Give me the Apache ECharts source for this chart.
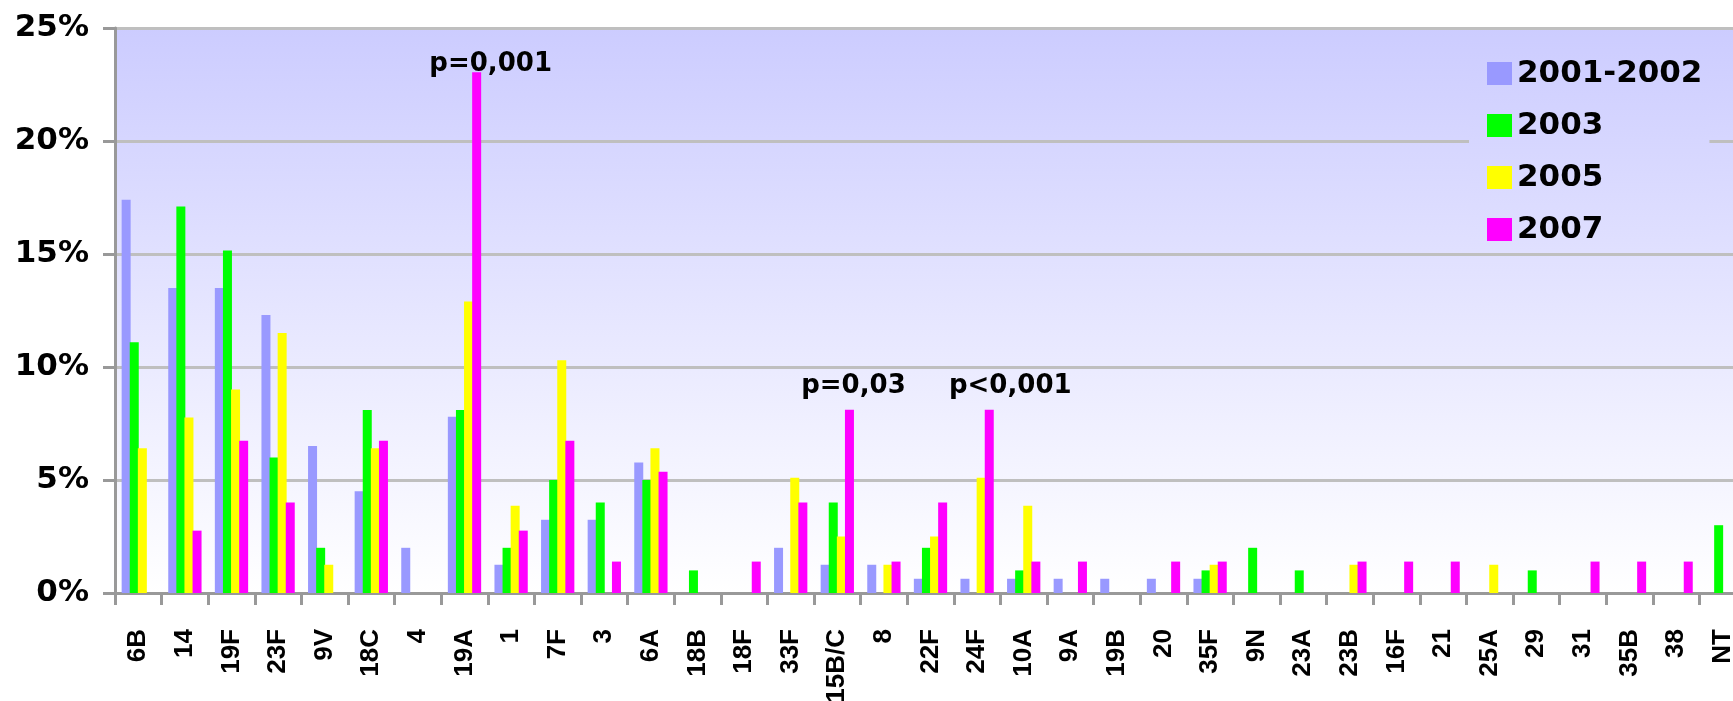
<!DOCTYPE html>
<html>
<head>
<meta charset="utf-8">
<title>Serotypes</title>
<script src="https://cdn.jsdelivr.net/npm/echarts@6.0.0/dist/echarts.min.js"></script>
<style>
  html, body { margin: 0; padding: 0; background: #fff; }
  #chart { width: 1733px; height: 701px; }
</style>
</head>
<body>
<div id="chart"></div>
<script>
// categories (serotypes)
const categories = ['6B', '14', '19F', '23F', '9V', '18C', '4', '19A', '1', '7F', '3', '6A', '18B', '18F', '33F',
  '15B/C', '8', '22F', '24F', '10A', '9A', '19B', '20', '35F', '9N', '23A', '23B', '16F', '21', '25A', '29',
  '31', '35B', '38', 'NT']

// values in %
const values2001 = [17.4, 13.5, 13.5, 12.3, 6.5, 4.5, 2.0, 7.8, 1.25, 3.24, 3.24, 5.77, 0, 0, 2.0,
  1.25, 1.25, 0.63, 0.63, 0.63, 0.63, 0.63, 0.63, 0.63, 0, 0, 0, 0, 0, 0, 0,
  0, 0, 0, 0]
const values2003 = [11.1, 17.1, 15.15, 6.0, 2.0, 8.1, 0, 8.1, 2.0, 5.0, 4.0, 5.0, 1.0, 0, 0,
  4.0, 0, 2.0, 0, 1.0, 0, 0, 0, 1.0, 2.0, 1.0, 0, 0, 0, 0, 1.0,
  0, 0, 0, 3.0]
const values2005 = [6.4, 7.76, 9.0, 11.5, 1.25, 6.4, 0, 12.9, 3.86, 10.3, 0, 6.4, 0, 0, 5.1,
  2.5, 1.25, 2.5, 5.1, 3.86, 0, 0, 0, 1.25, 0, 0, 1.25, 0, 0, 1.25, 0,
  0, 0, 0, 0]
const values2007 = [0, 2.76, 6.74, 4.0, 0, 6.74, 0, 23.04, 2.76, 6.74, 1.39, 5.37, 0, 1.39, 4.0,
  8.11, 1.39, 4.0, 8.11, 1.39, 1.39, 0, 1.39, 1.39, 0, 0, 1.39, 1.39, 1.39, 0, 0,
  1.39, 1.39, 1.39, 0]

const seriesNames = ['2001-2002', '2003', '2005', '2007']

// p-value notes above the 2007 bars
const pCategories = ['19A', '15B/C', '24F']
const pTexts = ['p=0,001', 'p=0,03', 'p<0,001']

// styling
const seriesColors = ['#9999ff', '#00ff00', '#ffff00', '#ff00ff']
const pOffsets = { '19A': [14, 5], '15B/C': [4, -10], '24F': [21, -10] }
const wideFont = '"DejaVu Sans", sans-serif'
const labelFont = '"Liberation Sans", Arial, sans-serif'

/**
 * 2007 series data with the p labels
 */
const build2007 = () => values2007.map((v, i) => {
  const idx = pCategories.indexOf(categories[i])
  if (idx < 0) return v
  return {
    value: v,
    label: {
      show: true,
      position: 'top',
      distance: 0,
      offset: pOffsets[categories[i]],
      formatter: pTexts[idx],
      fontFamily: wideFont,
      fontWeight: 'bold',
      fontSize: 26,
      color: '#000'
    }
  }
})

const allValues = [values2001, values2003, values2005, build2007()]

const chart = echarts.init(document.getElementById('chart'))

const option = {
  animation: false,
  backgroundColor: '#fff',
  grid: {
    left: 115,
    right: -13,
    top: 28,
    bottom: 108,
    containLabel: false,
    outerBoundsMode: 'none',
    show: true,
    borderWidth: 0,
    backgroundColor: new echarts.graphic.LinearGradient(0, 0, 0, 1, [
      { offset: 0, color: '#ccccff' },
      { offset: 1, color: '#ffffff' }
    ])
  },
  legend: {
    data: seriesNames,
    orient: 'vertical',
    left: 1469,
    top: 40,
    padding: [18, 7, 6, 18],
    icon: 'rect',
    itemWidth: 25,
    itemHeight: 23,
    itemGap: 21,
    selectedMode: false,
    backgroundColor: new echarts.graphic.LinearGradient(0, 0, 0, 1, [
      { offset: 0, color: 'rgb(205,205,255)' },
      { offset: 1, color: 'rgb(224,224,255)' }
    ]),
    textStyle: {
      fontFamily: wideFont,
      fontWeight: 'bold',
      fontSize: 31,
      color: '#000'
    }
  },
  xAxis: {
    type: 'category',
    data: categories,
    axisLine: { lineStyle: { color: '#999999', width: 3 } },
    axisTick: { show: true, length: 12, lineStyle: { color: '#999999', width: 3 } },
    axisLabel: {
      interval: 0,
      rotate: 90,
      margin: 36,
      fontFamily: labelFont,
      fontWeight: 'bold',
      fontSize: 26,
      color: '#000'
    }
  },
  yAxis: {
    type: 'value',
    min: 0,
    max: 25,
    interval: 5,
    axisLine: { show: true, lineStyle: { color: '#999999', width: 3 } },
    axisTick: { show: true, length: 12, lineStyle: { color: '#999999', width: 3 } },
    splitLine: { lineStyle: { color: '#bfbfbf', width: 3 } },
    axisLabel: {
      margin: 26,
      formatter: '{value}%',
      fontFamily: wideFont,
      fontWeight: 'bold',
      fontSize: 31,
      color: '#000'
    }
  },
  series: seriesNames.map((name, i) => ({
    name: name,
    type: 'bar',
    data: allValues[i],
    barWidth: 9,
    barGap: '-10%',
    itemStyle: { color: seriesColors[i] }
  }))
}

chart.setOption(option)
</script>
</body>
</html>
